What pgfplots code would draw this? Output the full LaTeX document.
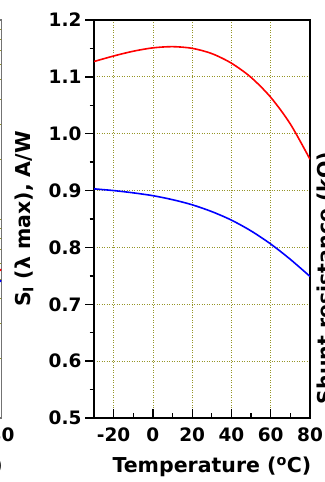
\documentclass[border=0pt]{standalone}
\usepackage{fontspec}
\setmainfont{DejaVu Sans}
\usepackage{pgfplots}
\pgfplotsset{compat=1.18}
\definecolor{gridc}{RGB}{150,150,40}
\pgfplotsset{
 panel/.style={
  scale only axis, width=216bp, height=398bp,
  xmin=-30, xmax=80, xtick={-20,0,20,40,60,80}, minor x tick num=1,
  xtick align=inside, ytick align=outside,
  axis line style={line width=1.3bp, black},
  major tick length=9bp, minor tick length=4.5bp,
  every tick/.style={black, line width=1.3bp},
  tick pos=left,
  grid=major,
  major grid style={gridc, line width=0.8bp, dash pattern=on 1bp off 1.5bp},
  minor grid style={gridc, line width=0.8bp, dash pattern=on 1bp off 1.5bp},
  tick label style={font=\bfseries\fontsize{18.5bp}{22bp}\selectfont},
  label style={font=\bfseries\fontsize{20.5bp}{25bp}\selectfont},
  /pgf/number format/assume math mode=true,
  xlabel={Temperature (\textsuperscript{o}C)},
  xlabel style={at={(axis description cs:0.546,-0.123)}, anchor=center},
  xticklabel style={yshift=-6bp},
 },
}
\begin{document}
\begin{tikzpicture}
\useasboundingbox (0bp,0bp) rectangle (325bp,482bp);
\clip (0bp,0bp) rectangle (325bp,482bp);
% left neighbouring panel (only a sliver visible)
\begin{axis}[panel, at={(1.5bp,64bp)}, anchor=south east,
  ymode=log, ymin=1, ymax=100, grid=both,
  axis line style={line width=1.6bp, black!55}]
\addplot[red, line width=1.6bp, smooth] coordinates {(-30,1.2) (0,1.8) (40,3.0) (80,5.59)};
\addplot[blue, line width=1.6bp, smooth] coordinates {(-30,1.1) (0,1.5) (40,2.6) (80,4.92)};
\end{axis}
% main panel
\begin{axis}[panel, at={(94bp,64bp)}, anchor=south west,
  ymin=0.5, ymax=1.2, ytick={0.5,0.6,0.7,0.8,0.9,1.0,1.1,1.2}, minor y tick num=1,
  yticklabel style={/pgf/number format/.cd, fixed, fixed zerofill, precision=1},
  ylabel={S\textsubscript{I} (λ max), A/W},
  ylabel style={at={(axis description cs:-0.324,0.5)}, anchor=center}]
\addplot[red, line width=1.6bp, smooth] coordinates {
 (-30,1.127) (-20,1.1367) (-10,1.1451) (0,1.151) (10,1.1531) (20,1.1502)
 (30,1.1409) (40,1.124) (50,1.099) (60,1.064) (70,1.017) (80,0.955)};
\addplot[blue, line width=1.6bp, smooth] coordinates {
 (-30,0.903) (-20,0.900) (-10,0.896) (0,0.891) (10,0.884) (20,0.875)
 (30,0.863) (40,0.848) (50,0.829) (60,0.806) (70,0.779) (80,0.749)};
\end{axis}
\node[rotate=90, anchor=north, inner sep=0pt, font=\bfseries\fontsize{20.5bp}{25bp}\selectfont] at (317bp,204bp) {Shunt resistance (kΩ)};
\end{tikzpicture}
\end{document}
